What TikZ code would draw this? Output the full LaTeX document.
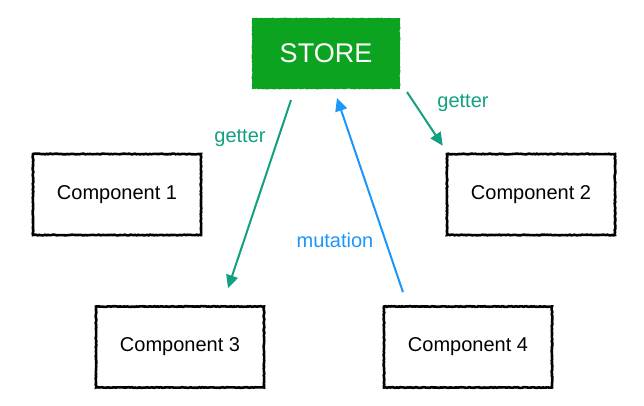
\documentclass[tikz,border=0pt]{standalone}
\usepackage{fontspec}
\setmainfont{Liberation Sans}
\usetikzlibrary{arrows.meta,decorations.pathmorphing}
\definecolor{storegreen}{RGB}{12,163,32}
\definecolor{getterteal}{RGB}{18,160,128}
\definecolor{mutblue}{RGB}{28,150,250}
\tikzset{
  compbox/.style={draw=black, line width=2.6pt, fill=white, minimum width=168pt, minimum height=81pt,
    inner sep=0pt, font=\fontsize{20}{24}\selectfont,
    decorate, decoration={random steps, segment length=1.5pt, amplitude=0.35pt}},
  storebox/.style={fill=storegreen, draw=storegreen, line width=1pt, minimum width=147pt, minimum height=70pt,
    inner sep=0pt, text=white, font=\fontsize{27}{32}\selectfont,
    decorate, decoration={random steps, segment length=1.5pt, amplitude=0.4pt}},
  getarrow/.style={draw=getterteal, line width=2pt, -{Triangle[length=13pt,width=12pt]}},
  mutarrow/.style={draw=mutblue, line width=2pt, -{Triangle[length=13pt,width=12pt]}},
  lbl/.style={font=\fontsize{20}{24}\selectfont, inner sep=0pt}
}
\begin{document}
\begin{tikzpicture}[x=1pt,y=-1pt]
\useasboundingbox (0,0) rectangle (644,405);
\node[storebox] (store) at (326,53.5) {STORE};
\node[compbox] (c1) at (117,194.5) {Component 1};
\node[compbox] (c2) at (531,194.5) {Component 2};
\node[compbox] (c3) at (180,347) {Component 3};
\node[compbox] (c4) at (468,347) {Component 4};
\draw[getarrow] ([xshift=-35pt,yshift=-11pt]store.south) -- ([xshift=48pt,yshift=17pt]c3.north);
\draw[mutarrow] ([xshift=-65pt,yshift=13pt]c4.north) -- ([xshift=11pt,yshift=-9pt]store.south);
\draw[getarrow] ([xshift=7pt,yshift=-3pt]store.south east) -- ([xshift=-3pt,yshift=7pt]c2.north west);
\node[lbl, text=getterteal] (g1) at (240,138) {getter};
\node[lbl, text=getterteal] (g2) at (463,103) {getter};
\node[lbl, text=mutblue] (m1) at (335,240) {mutation};
\end{tikzpicture}
\end{document}
